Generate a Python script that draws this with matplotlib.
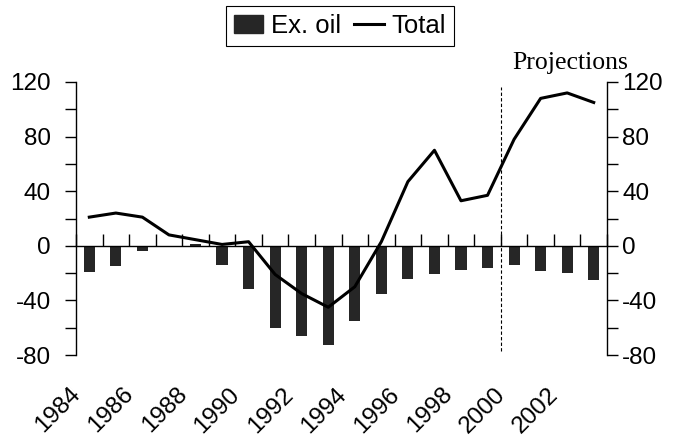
import matplotlib
matplotlib.use('Agg')
import matplotlib.pyplot as plt
from matplotlib.ticker import MultipleLocator, FixedLocator, NullFormatter
from matplotlib.lines import Line2D
from matplotlib.patches import Patch
import matplotlib.transforms as mtransforms
import numpy as np

years = list(range(1984, 2004))
ex_oil = [-19, -15, -4, 0, 1.5, -14, -32, -60, -66, -73,
          -55, -35, -24, -21, -18, -16, -14, -18.5, -20, -25]
total = [21, 24, 21, 8, 4.5, 1, 3, -21, -35, -45,
         -30, 3, 47, 70, 33, 37, 78, 108, 112, 105]
year_labels = [str(y) for y in years[::2]]
proj_start = 2000

plt.rcParams['font.family'] = ['Liberation Sans', 'DejaVu Sans']
plt.rcParams['axes.unicode_minus'] = False

fig = plt.figure(figsize=(6.77, 4.43), dpi=100)
ax = fig.add_axes([0.1123, 0.1986, 0.7843, 0.6163])

x = np.arange(len(years))
ax.bar(x, ex_oil, width=0.42, color='#262626', zorder=2)
ax.plot(x, total, color='black', lw=2.2, zorder=3)

ax.set_xlim(-0.5, len(years) - 0.5)
ax.set_ylim(-80, 120)

# dashed line marking start of projections
px = years.index(proj_start) - 0.5
ax.plot([px, px], [-77, 116], color='black', lw=0.8, ls=(0, (3, 2)), zorder=1)
ax.text(px + 0.42, 129.5, 'Projections', family='Liberation Serif', fontsize=18.5,
        ha='left', va='baseline')

# spines
ax.spines['top'].set_visible(False)
ax.spines['right'].set_visible(False)
ax.spines['bottom'].set_position(('data', 0))
ax.spines['bottom'].set_linewidth(1.0)
ax.spines['left'].set_linewidth(1.0)

# category boundary ticks on the zero line
ax.xaxis.set_major_locator(FixedLocator(np.arange(0, len(years) + 1) - 0.5))
ax.xaxis.set_major_formatter(NullFormatter())
ax.tick_params(axis='x', direction='in', length=9, width=1.0)

ax.yaxis.set_major_locator(MultipleLocator(40))
ax.yaxis.set_minor_locator(MultipleLocator(20))
ax.tick_params(axis='y', which='both', direction='out', length=8, width=1.0,
               labelsize=17.5, pad=10)

ax2 = ax.twinx()
ax2.set_ylim(-80, 120)
ax2.spines['top'].set_visible(False)
ax2.spines['left'].set_visible(False)
ax2.spines['bottom'].set_visible(False)
ax2.spines['right'].set_linewidth(1.0)
ax2.yaxis.set_major_locator(MultipleLocator(40))
ax2.yaxis.set_minor_locator(MultipleLocator(20))
ax2.tick_params(axis='y', which='both', direction='out', length=8, width=1.0,
                labelsize=17.5, pad=3)

# year labels at the bottom of the chart
sec = ax.secondary_xaxis(0)
sec.spines['bottom'].set_visible(False)
sec.set_xticks(x[::2], year_labels)
sec.tick_params(axis='x', length=0, labelsize=17.5, pad=26)
offset = mtransforms.ScaledTranslation(-12 / 100, 0, fig.dpi_scale_trans)
for lab in sec.get_xticklabels():
    lab.set_rotation(45)
    lab.set_rotation_mode('anchor')
    lab.set_ha('right')
    lab.set_va('center')
    lab.set_transform(lab.get_transform() + offset)

handles = [Patch(facecolor='#262626', edgecolor='#262626'),
           Line2D([0], [0], color='black', lw=2.2)]
leg = fig.legend(handles, ['Ex. oil', 'Total'], loc='upper center',
                 bbox_to_anchor=(0.502, 0.986), ncol=2, fontsize=18.5,
                 frameon=True, fancybox=False, framealpha=1,
                 handlelength=1.15, handleheight=0.7, handletextpad=0.3,
                 columnspacing=0.5, borderpad=0.3, borderaxespad=0)
leg.get_frame().set_edgecolor('black')
leg.get_frame().set_linewidth(0.8)

fig.savefig('out.png', dpi=100)
